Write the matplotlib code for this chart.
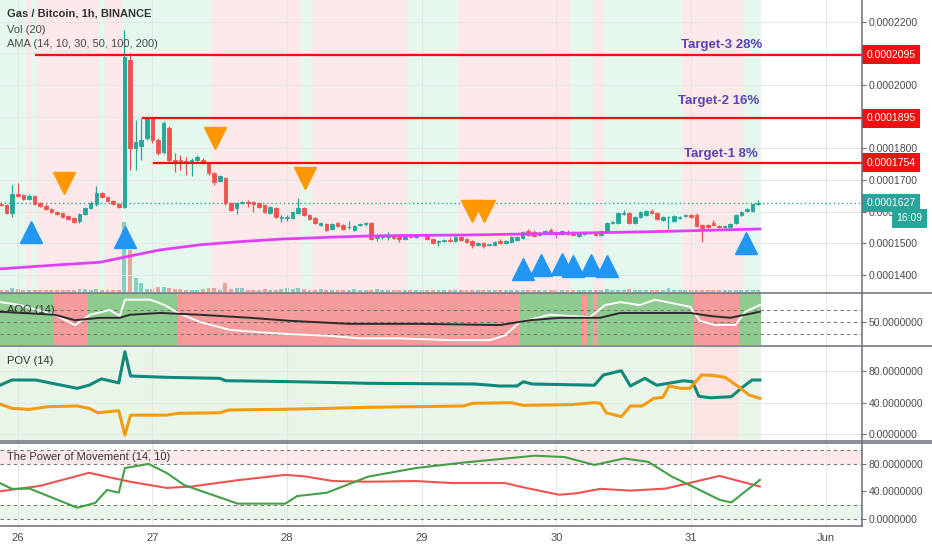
import matplotlib
matplotlib.use("Agg")
import matplotlib.pyplot as plt
from matplotlib import transforms
from matplotlib.lines import Line2D

plt.rcParams['font.family'] = ['Liberation Sans', 'DejaVu Sans']

# time axis: hours counted from 26 May 00:00, one candle per hour
first_hour = -3
day_ticks = [0, 24, 48, 72, 96, 120, 144]
day_labels = ['26', '27', '28', '29', '30', '31', 'Jun']

# prices in units of 1e-7 BTC
opens = [1625, 1621, 1596, 1656, 1652, 1640, 1649, 1627, 1618, 1608, 1599, 1596, 1586, 1580, 1570, 1592, 1611, 1624, 1659, 1646,
         1633, 1624, 1615, 2078, 1801, 1807, 1832, 1895, 1826, 1788, 1864, 1763, 1763, 1760, 1753, 1763, 1763, 1753, 1722, 1697,
         1706, 1627, 1611, 1627, 1630, 1630, 1627, 1621, 1596, 1611, 1581, 1581, 1580, 1596, 1611, 1589, 1580, 1558, 1561, 1545,
         1564, 1558, 1550, 1542, 1558, 1561, 1564, 1517, 1520, 1520, 1526, 1523, 1514, 1526, 1520, 1525, 1523, 1514, 1504, 1507,
         1510, 1507, 1520, 1514, 1507, 1495, 1501, 1494, 1495, 1507, 1501, 1504, 1510, 1517, 1539, 1536, 1526, 1533, 1542, 1536,
         1529, 1536, 1536, 1523, 1529, 1532, 1536, 1526, 1536, 1564, 1564, 1592, 1596, 1564, 1583, 1589, 1602, 1596, 1574, 1582,
         1570, 1580, 1586, 1589, 1589, 1558, 1558, 1564, 1555, 1551, 1551, 1564, 1589, 1602, 1602, 1624]
closes = [1621, 1596, 1656, 1649, 1640, 1649, 1624, 1618, 1608, 1599, 1592, 1583, 1577, 1567, 1592, 1611, 1627, 1659, 1646, 1633,
          1624, 1615, 2088, 1801, 1820, 1826, 1895, 1826, 1785, 1880, 1763, 1753, 1753, 1753, 1763, 1772, 1753, 1722, 1693, 1712,
          1627, 1605, 1627, 1630, 1627, 1624, 1615, 1599, 1615, 1583, 1583, 1584, 1599, 1611, 1589, 1577, 1564, 1564, 1542, 1561,
          1555, 1545, 1552, 1555, 1561, 1564, 1514, 1520, 1523, 1526, 1517, 1514, 1526, 1520, 1526, 1526, 1514, 1501, 1507, 1510,
          1507, 1520, 1510, 1504, 1495, 1501, 1491, 1496, 1504, 1501, 1507, 1520, 1520, 1536, 1526, 1523, 1533, 1539, 1533, 1529,
          1539, 1529, 1526, 1533, 1536, 1534, 1526, 1539, 1564, 1567, 1596, 1596, 1564, 1583, 1599, 1602, 1596, 1577, 1583, 1584,
          1586, 1583, 1589, 1583, 1555, 1548, 1551, 1558, 1551, 1555, 1561, 1589, 1599, 1608, 1624, 1627]
highs = [1630, 1624, 1684, 1690, 1656, 1656, 1652, 1630, 1624, 1611, 1602, 1599, 1589, 1583, 1596, 1615, 1633, 1681, 1662, 1649,
         1637, 1627, 2173, 2100, 1889, 1895, 1899, 1899, 1832, 1886, 1870, 1785, 1779, 1772, 1769, 1779, 1769, 1757, 1725, 1716,
         1709, 1630, 1630, 1633, 1637, 1633, 1630, 1624, 1618, 1615, 1589, 1589, 1602, 1643, 1615, 1592, 1583, 1567, 1564, 1564,
         1567, 1561, 1570, 1558, 1564, 1567, 1567, 1526, 1526, 1536, 1529, 1526, 1529, 1529, 1529, 1529, 1526, 1517, 1510, 1514,
         1520, 1523, 1523, 1517, 1510, 1504, 1504, 1498, 1507, 1514, 1510, 1523, 1523, 1539, 1545, 1542, 1536, 1542, 1548, 1539,
         1542, 1542, 1539, 1536, 1539, 1536, 1539, 1542, 1567, 1570, 1599, 1605, 1599, 1586, 1602, 1605, 1608, 1599, 1586, 1586,
         1589, 1586, 1592, 1592, 1596, 1561, 1561, 1574, 1558, 1558, 1564, 1592, 1602, 1611, 1627, 1637]
lows = [1618, 1593, 1583, 1646, 1637, 1637, 1621, 1615, 1605, 1596, 1589, 1580, 1574, 1564, 1564, 1589, 1608, 1618, 1643, 1630,
        1621, 1611, 1611, 1731, 1731, 1763, 1826, 1816, 1778, 1782, 1757, 1725, 1731, 1716, 1712, 1757, 1750, 1716, 1684, 1693,
        1621, 1602, 1592, 1624, 1615, 1599, 1611, 1596, 1592, 1580, 1567, 1570, 1577, 1592, 1586, 1574, 1561, 1555, 1539, 1542,
        1551, 1542, 1545, 1539, 1555, 1555, 1510, 1507, 1514, 1510, 1514, 1504, 1510, 1517, 1517, 1523, 1510, 1498, 1491, 1504,
        1504, 1504, 1507, 1501, 1485, 1491, 1485, 1491, 1491, 1498, 1498, 1501, 1507, 1514, 1523, 1520, 1523, 1529, 1529, 1517,
        1526, 1526, 1523, 1520, 1526, 1529, 1523, 1523, 1533, 1561, 1561, 1589, 1561, 1561, 1580, 1586, 1592, 1574, 1570, 1545,
        1567, 1577, 1583, 1580, 1551, 1504, 1548, 1555, 1548, 1548, 1548, 1561, 1586, 1599, 1599, 1621]
volumes = [1.2, 1.0, 2.0, 1.6, 1.0, 1.0, 0.8, 1.0, 0.9, 0.9, 0.8, 0.8, 0.8, 0.9, 1.3, 1.4, 1.0, 1.6, 0.9, 0.8, 0.8, 1.0,
           35.0, 21.0, 7.0, 4.5, 1.5, 1.5, 2.5, 2.5, 1.8, 1.5, 1.3, 1.2, 1.0, 1.0, 1.3, 1.8, 1.8, 1.2, 4.5, 1.3, 1.8, 1.8,
           1.2, 1.0, 1.0, 1.7, 0.9, 1.0, 1.5, 1.8, 1.6, 1.8, 1.3, 1.0, 0.9, 1.3, 1.0, 1.0, 1.0, 1.0, 0.8, 1.3, 1.2, 1.2, 1.0, 1.3,
           0.9, 1.0, 0.8, 0.9, 1.1, 0.9, 0.8, 1.0, 0.9, 0.8, 1.0, 0.9, 1.2, 0.9, 0.8, 1.0, 1.1, 0.9,
           0.8, 1.0, 0.9, 1.0, 0.8, 0.9, 1.0, 1.2, 1.0, 0.9, 0.8, 1.0, 0.9, 1.1, 0.8, 0.9, 1.0, 0.9, 1.0, 0.8,
           0.9, 1.0, 1.5, 1.2, 1.0, 0.9, 1.3, 1.1, 1.0, 0.9, 1.0, 0.8, 1.0, 1.8, 1.2, 1.0, 0.9, 1.0, 1.1, 1.2,
           0.9, 0.8, 0.9, 1.0, 0.9, 1.1, 1.0, 1.2, 1.1, 1.0]

ama_hours = [-3.2, 7.5, 14.7, 18.2, 21.8, 25.4, 32.5, 39.6, 46.8, 55.7, 62.8, 71.7, 80, 96.7, 114.5, 132.3]
ama_values = [1419, 1432, 1440, 1453, 1466, 1479, 1495, 1505, 1513, 1519, 1523, 1525, 1526, 1531, 1537, 1545]

last_price = 1627
countdown = '16:09'
targets = [2095, 1895, 1754]
target_start = [3.2, 22.3, 24.2]
target_names = ['Target-3 28%', 'Target-2 16%', 'Target-1 8%']
target_text_hours = [125.4, 125.0, 125.4]
target_text_prices = [2126, 1949, 1782]

buy_hours = [2.35, 19.2, 90.0, 93.2, 97.0, 99.0, 102.2, 105.0, 129.9]
buy_prices = [1534, 1521, 1418, 1430, 1433, 1428, 1430, 1428, 1501]
sell_hours = [8.3, 35.2, 51.2, 81.0, 83.1]
sell_prices = [1690, 1831, 1706, 1602, 1602]

# background trend bands: edges in hours, first band green
main_band_edges = [-3.5, 1.5, 2.5, 3.5, 14.5, 15.5, 18.5, 34.5, 50.5, 52.5, 69.5, 78.5, 98.5, 102.5, 104.5, 118.5, 129.5, 132.5]
aoo_band_edges = [-3.5, 6.5, 12.5, 28.5, 89.5, 100.5, 101.5, 102.5, 103.5, 120.5, 128.5, 132.5]
pov_band_edges = [-3.5, 120.5, 128.5, 132.5]

aoo_white_h = [-3.17, 0.4, 6.6, 10.2, 12.9, 16.4, 18.2, 19.1, 23.6, 26.2, 28.6, 32.5, 37.8, 43.2, 48.5, 55.7, 61.0, 68.2,
               77.1, 84.2, 86.9, 89.5, 94.9, 102.0, 104.7, 107.4, 110.9, 113.6, 119.9, 121.6, 124.3, 127.9, 129.7, 132.3]
aoo_white_v = [83, 78, 62, 45, 62, 70, 60, 87, 87, 78, 65, 50, 37, 33, 30, 27, 23, 23,
               20, 20, 28, 50, 62, 58, 78, 83, 78, 87, 75, 52, 45, 45, 67, 78]
aoo_dark_h = [-3.17, 6.6, 10.2, 14.7, 18.2, 20.0, 25.4, 32.5, 41.4, 48.5, 59.2, 71.7, 86.0, 91.3, 96.7, 103.8, 107.4,
              119.9, 123.4, 127.0, 132.3]
aoo_dark_v = [67, 62, 53, 57, 57, 62, 65, 62, 57, 52, 47, 47, 45, 53, 57, 57, 65, 65, 60, 57, 67]

pov_up_h = [-3.17, -1.05, 3.2, 6.4, 10.6, 12.7, 14.9, 18.0, 19.1, 20.1, 26.5, 36.0, 37.1, 49.8, 62.5, 81.6, 85.9, 89.0,
            90.1, 91.7, 102.8, 104.4, 107.6, 109.2, 111.8, 113.9, 118.7, 120.3, 121.4, 123.5, 127.2, 129.3, 130.9, 132.3]
pov_up_v = [62, 68.6, 68.6, 64, 58, 62, 70, 65, 104.5, 73.7, 72, 70.7, 67.7, 66.4, 64.4, 63.5, 61, 61,
            66.4, 63.5, 62, 75, 80.4, 61, 70.7, 62, 67.7, 66.4, 48, 46, 47.4, 60, 68.6, 68.6]
pov_down_h = [-3.17, -1.05, 2.1, 5.3, 10.6, 12.7, 14.3, 18.0, 19.1, 20.1, 26.5, 28.6, 36.0, 37.6, 49.8, 62.5, 79.5, 81.1,
              88.0, 90.1, 98.6, 102.8, 103.9, 104.9, 107.6, 109.2, 111.3, 113.4, 115.0, 116.1, 118.2, 119.8, 121.9,
              124.0, 126.1, 128.3, 130.4, 132.3]
pov_down_v = [38, 32.6, 31.3, 34.7, 35.6, 32.6, 27, 29.6, -1.3, 24, 24, 26.3, 27, 30.5, 31.7, 33.9, 35.6, 39,
              39.8, 36.4, 37.3, 39.8, 39, 27, 22, 35.6, 35.6, 45.3, 46.6, 61, 58, 58, 75,
              74.3, 72, 61, 49.5, 45.3]

pom_red_h = [-3.17, 4.0, 12.7, 20.0, 26.5, 31.0, 39.0, 47.7, 51.0, 56.2, 62.5, 71.0, 77.5, 86.9, 90.0, 96.5, 99.5,
             103.9, 109.2, 115.5, 125.1, 132.3]
pom_red_v = [40, 48, 67, 54, 45, 47, 56, 64, 62, 55, 54, 55, 52, 52, 46, 35, 37, 43.6, 41, 44, 62.5, 47]
pom_green_h = [-3.17, -1.05, 2.1, 10.6, 13.8, 15.9, 18.0, 19.1, 23.3, 26.5, 29.7, 39.2, 47.7, 49.8, 55.1, 62.5, 71.0,
               79.5, 92.2, 97.5, 102.8, 108.1, 112.4, 116.6, 120.8, 125.1, 127.2, 132.3]
pom_green_v = [52, 43.6, 44, 16, 23, 42, 38, 74, 80, 67, 49, 22, 22, 33, 38, 61.5, 74, 82, 92, 90, 78.5, 88, 83, 61.5,
               45, 27.6, 23.7, 56.7]

GREEN = '#26a69a'
RED = '#ef5350'
TEXT = '#4a4a4a'
LINE = '#6a6d78'
X_LEFT, X_RIGHT = -3.17, 150.5


def draw_bands(ax, edges, colors, z=0):
	for i in range(len(edges) - 1):
		ax.axvspan(edges[i], edges[i + 1], color=colors[i % 2], lw=0, zorder=z)


def setup_panel(ax, ylim, ticks, labels):
	ax.set_xlim(X_LEFT, X_RIGHT)
	ax.set_ylim(*ylim)
	ax.set_axisbelow(True)
	ax.yaxis.tick_right()
	ax.set_yticks(ticks)
	ax.set_yticklabels(labels)
	ax.set_xticks(day_ticks)
	ax.tick_params(axis='y', length=3, width=0.8, color=LINE, labelsize=7.5, labelcolor=TEXT, pad=2)
	ax.tick_params(axis='x', length=0, labelbottom=False)
	ax.grid(axis='x', color='#e6e6e6', lw=0.8)
	for side in ['top', 'bottom', 'left', 'right']:
		ax.spines[side].set_visible(False)


def price_tag(ax, y, text, color, dx=3, dy=0, ha='left'):
	trans = transforms.blended_transform_factory(ax.transAxes, ax.transData)
	ax.annotate(text, xy=(1, y), xycoords=trans, xytext=(dx, dy), textcoords='offset points',
				ha=ha, va='center', fontsize=7.5, color='white', annotation_clip=False, zorder=10,
				bbox=dict(boxstyle='square,pad=0.42', fc=color, ec='none'))


fig = plt.figure(figsize=(9.32, 5.5), dpi=100)
W = 862 / 932


def fy(px):
	return 1 - px / 550


ax = fig.add_axes([0, fy(292), W, 292 / 550])
aoo = fig.add_axes([0, fy(345), W, 52 / 550])
pov = fig.add_axes([0, fy(440), W, 94 / 550])
pom = fig.add_axes([0, fy(525), W, 83 / 550])

# main price panel; volume sits on a twin axis underneath the candles
vol = ax.twinx()
vol.set_zorder(0)
ax.set_zorder(1)
ax.patch.set_visible(False)
vol.set_xlim(X_LEFT, X_RIGHT)
vol.set_ylim(0, 146)
vol.axis('off')
draw_bands(vol, main_band_edges, ['#e4f8ee', '#fde9e9'])

# 0.0001900 and 0.0002100 sit under the target price tags, so no text for them
price_ticks = list(range(1400, 2201, 100))
price_labels = ['' if v in (1900, 2100) else f'{v / 1e7:.7f}' for v in price_ticks]
setup_panel(ax, (1346, 2268), price_ticks, price_labels)
ax.grid(axis='y', color='#e6e6e6', lw=0.8)

hours = [first_hour + i for i in range(len(closes))]
vol_colors = [GREEN if c >= o else RED for o, c in zip(opens, closes)]
vol.bar(hours, volumes, width=0.7, color=vol_colors, alpha=0.5, lw=0, zorder=2)

for h, o, hi, lo, c in zip(hours, opens, highs, lows, closes):
	col = GREEN if c >= o else RED
	ax.vlines(h, lo, hi, color=col, lw=0.9, zorder=3)
	ax.bar(h, c - o, bottom=o, width=0.64, color=col, edgecolor=col, lw=0.6, zorder=3)

ax.plot(ama_hours, ama_values, color='#e040fb', lw=2.0, zorder=4)
ax.axhline(last_price, color=GREEN, lw=1, ls=(0, (1, 2)), zorder=2)

for y, x0, name, tx, ty in zip(targets, target_start, target_names, target_text_hours, target_text_prices):
	ax.plot([x0, X_RIGHT], [y, y], color='#f01010', lw=1.6, zorder=5)
	ax.text(tx, ty, name, ha='center', va='center', fontsize=9.5, fontweight='bold', color='#5a44b4', zorder=6)
	price_tag(ax, y, f'{y / 1e7:.7f}', '#f01010')

price_tag(ax, last_price, f'{last_price / 1e7:.7f}', GREEN)
price_tag(ax, last_price, countdown, GREEN, dx=43.5, dy=-11, ha='right')

ax.plot(buy_hours, buy_prices, ls='none', marker='^', ms=15.5, color='#2196f3', zorder=7)
ax.plot(sell_hours, sell_prices, ls='none', marker='v', ms=15.5, color='#ff9800', zorder=7)

ax.text(0.008, 1 - 14 / 292, 'Gas / Bitcoin, 1h, BINANCE', transform=ax.transAxes, va='center',
		fontsize=8, fontweight='bold', color='#333333')
ax.text(0.008, 1 - 30 / 292, 'Vol (20)', transform=ax.transAxes, va='center', fontsize=8, color=TEXT)
ax.text(0.008, 1 - 44 / 292, 'AMA (14, 10, 30, 50, 100, 200)', transform=ax.transAxes, va='center',
		fontsize=8, color=TEXT)

# AOO panel
setup_panel(aoo, (12, 98), [50], ['50.0000000'])
draw_bands(aoo, aoo_band_edges, ['#8ecb8e', '#f59b9b'], z=1)
for lvl in [30, 50, 70]:
	aoo.axhline(lvl, color='#777777', lw=0.8, ls=(0, (3, 3)), zorder=1.5)
aoo.plot(aoo_white_h, aoo_white_v, color='white', lw=1.4, zorder=3)
aoo.plot(aoo_dark_h, aoo_dark_v, color='#2b2b2b', lw=1.4, zorder=3)
aoo.text(0.008, 1 - 17 / 52, 'AOO (14)', transform=aoo.transAxes, va='center', fontsize=8, color='#333333')

# POV panel
setup_panel(pov, (-7.6, 111.8), [0, 40, 80], ['0.0000000', '40.0000000', '80.0000000'])
pov.grid(axis='y', color='#e6e6e6', lw=0.8)
draw_bands(pov, pov_band_edges, ['#e8f5e8', '#fde4e4'])
pov.plot(pov_up_h, pov_up_v, color='#11897a', lw=2.2, zorder=3)
pov.plot(pov_down_h, pov_down_v, color='#f39c12', lw=2.2, zorder=3)
pov.text(0.008, 1 - 15 / 94, 'POV (14)', transform=pov.transAxes, va='center', fontsize=8, color='#333333')

# Power of Movement panel
setup_panel(pom, (-9.2, 112), [0, 40, 80], ['0.0000000', '40.0000000', '80.0000000'])
pom.axhspan(80, 100, color='#fde9e9', lw=0, zorder=0)
pom.axhspan(0, 20, color='#eaf6ea', lw=0, zorder=0)
for lvl in [0, 20, 80, 100]:
	pom.axhline(lvl, color='#777777', lw=0.8, ls=(0, (3, 3)), zorder=1)
pom.plot(pom_red_h, pom_red_v, color='#ef5350', lw=1.5, zorder=3)
pom.plot(pom_green_h, pom_green_v, color='#43a047', lw=1.5, zorder=3)
pom.text(0.008, 1 - 15 / 83, 'The Power of Movement (14, 10)', transform=pom.transAxes, va='center',
		 fontsize=8, color='#333333')
pom.tick_params(axis='x', labelbottom=True, labelsize=8, labelcolor=TEXT, pad=6)
pom.set_xticklabels(day_labels)

# panel separators and price scale border
for y in [292.5, 345.5, 440.5, 442.5]:
	fig.add_artist(Line2D([0, 1], [fy(y), fy(y)], transform=fig.transFigure, color=LINE, lw=1.1))
fig.add_artist(Line2D([0, W], [fy(525.5), fy(525.5)], transform=fig.transFigure, color=LINE, lw=1.1))
fig.add_artist(Line2D([W, W], [fy(526), 1], transform=fig.transFigure, color=LINE, lw=1.1))

fig.savefig('out.png', dpi=100)
